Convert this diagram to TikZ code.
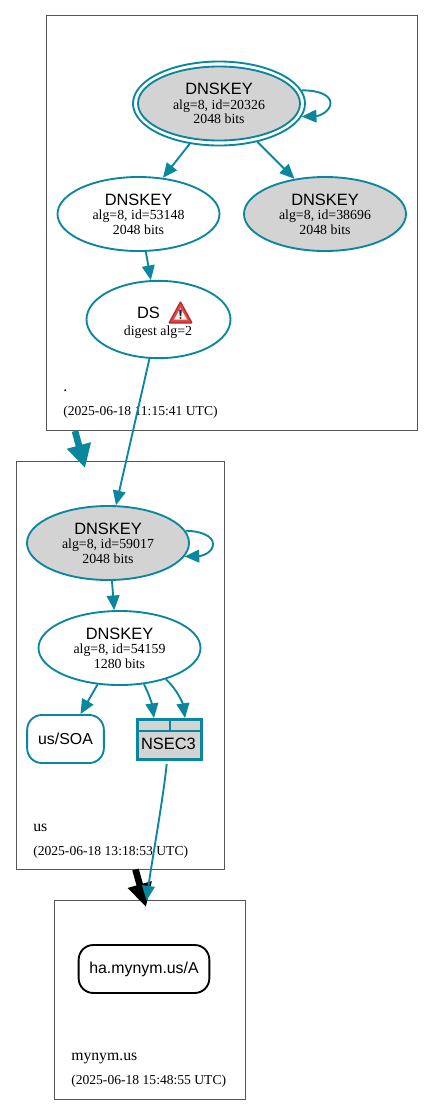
\documentclass[tikz,border=0pt]{standalone}
\usepackage{fontspec}
\setmainfont{Liberation Serif}
\newfontfamily\arialf{Liberation Sans}
\usetikzlibrary{shapes.geometric,arrows.meta,calc}
\definecolor{tealc}{HTML}{0A879E}
\definecolor{clusterc}{HTML}{555555}
\definecolor{fillc}{HTML}{D3D3D3}
\definecolor{warnouter}{HTML}{B52A2A}
\definecolor{warnmid}{HTML}{E04848}
\newcommand{\bigt}[1]{{\arialf\fontsize{12.3}{14}\selectfont #1}}
\newcommand{\midt}[1]{{\arialf\fontsize{11.9}{14}\selectfont #1}}
\newcommand{\smallt}[1]{{\fontsize{10.4}{11.5}\selectfont #1}}
\tikzset{
  x=0.75pt,y=-0.75pt,
  clusterbox/.style={draw=clusterc,line width=0.6pt,fill=white},
  keynode/.style={ellipse,draw=tealc,line width=1.4pt,minimum width=121.5pt,minimum height=55.5pt,inner sep=0pt,align=center,text=black},
  keyfill/.style={keynode,fill=fillc},
  edgeline/.style={draw=tealc,line width=1.4pt,-{Triangle[length=11pt,width=9.5pt,fill=tealc]}},
  rrbox/.style={draw=tealc,rounded corners=11pt,line width=1.4pt,minimum width=57.5pt,minimum height=36pt,inner sep=0pt},
  lbl/.style={anchor=base west,inner sep=0pt,font=\fontsize{11.8}{13}\selectfont},
  dlbl/.style={anchor=base west,inner sep=0pt,font=\fontsize{10.2}{11.5}\selectfont},
  delegate/.style={line width=5pt},
}
\begin{document}
\begin{tikzpicture}
\useasboundingbox (0,0) rectangle (433,1115);
% clusters
\node[clusterbox,minimum width=278.25pt,minimum height=311.25pt,inner sep=0pt] (root zone) at (232,223) {};
\node[clusterbox,minimum width=156pt,minimum height=306pt,inner sep=0pt] (us zone) at (120,665) {};
\node[clusterbox,minimum width=143.25pt,minimum height=149.25pt,inner sep=0pt] (mynym zone) at (149.75,999.5) {};
% cluster labels
\node[lbl] (l1) at (63,391) {.};
\node[dlbl] (d1) at (63,415) {(2025-06-18 11:15:41 UTC)};
\node[lbl] (l2) at (33,831.5) {us};
\node[dlbl] (d2) at (33,855) {(2025-06-18 13:18:53 UTC)};
\node[lbl] (l3) at (71,1060.5) {mynym.us};
\node[dlbl] (d3) at (71,1084) {(2025-06-18 15:48:55 UTC)};
% nodes
\node[ellipse,draw=tealc,line width=1.4pt,minimum width=129pt,minimum height=63pt,inner sep=0pt] (rootouter) at (219,103.5) {};
\node[keyfill] (root) at (219,103.5) {\bigt{DNSKEY}\\[-1pt]\smallt{alg=8, id=20326}\\[-1.2pt]\smallt{2048 bits}};
\node[keynode] (k1) at (138.5,214) {\bigt{DNSKEY}\\[-1pt]\smallt{alg=8, id=53148}\\[-1.2pt]\smallt{2048 bits}};
\node[keyfill] (k2) at (325,214) {\bigt{DNSKEY}\\[-1pt]\smallt{alg=8, id=38696}\\[-1.2pt]\smallt{2048 bits}};
\node[ellipse,draw=tealc,line width=1.4pt,minimum width=108pt,minimum height=58pt,inner sep=0pt] (ds) at (158.5,319.5) {};
\node[inner sep=0pt] (dstext) at (148.5,312.5) {\bigt{DS}};
\node[inner sep=0pt] (dsalg) at (158,332.5) {\smallt{digest alg=2}};
\node[keyfill] (k3) at (108,543) {\bigt{DNSKEY}\\[-1pt]\smallt{alg=8, id=59017}\\[-1.2pt]\smallt{2048 bits}};
\node[keynode] (k4) at (119.5,648) {\bigt{DNSKEY}\\[-1pt]\smallt{alg=8, id=54159}\\[-1.2pt]\smallt{1280 bits}};
\node[rrbox] (soa) at (65.5,739) {\raisebox{1pt}{\midt{us/SOA}}};
\node[rrbox,draw=black,minimum width=98pt] (ha) at (144,969) {\midt{ha.mynym.us/A}};
% NSEC3
\node[draw=tealc,fill=fillc,line width=2.2pt,minimum width=47.5pt,minimum height=30pt,inner sep=0pt] (nsec) at (169.5,739.5) {};
\node[inner sep=0pt] (nsectext) at (168.5,744) {\bigt{NSEC3}};
\coordinate (nl) at (nsec.west |- 0,731);
\coordinate (nr) at (nsec.east |- 0,731);
\draw[tealc,line width=1.5pt] (nl) -- (nr);
\draw[tealc,line width=2pt] (170,719) -- (170,731);
% warning icon
\fill[warnouter,rounded corners=1pt] (180.5,300.5) -- (193,323.5) -- (168,323.5) -- cycle;
\fill[warnmid] (180.5,303.5) -- (190.5,322) -- (170.5,322) -- cycle;
\fill[white!95!red] (180.5,308) -- (187,319.5) -- (174,319.5) -- cycle;
\fill[black!85] (179.2,309.5) -- (181.8,309.5) -- (181.3,316) -- (179.7,316) -- cycle;
\fill[black!85] (180.5,318) circle (1.2);
% delegation arrows (under the connectors)
\coordinate (a1) at (75,431);
\coordinate (a2) at (85,468);
\draw[draw=tealc,delegate,-{Triangle[length=17.5pt,width=17.5pt,fill=tealc]}] (a1) -- (a2);
\coordinate (b1) at (135.5,869.5);
\coordinate (b2) at (146,907);
\draw[draw=black,delegate,-{Triangle[length=17.5pt,width=17.5pt,fill=black]}] (b1) -- (b2);
% edges
\draw[edgeline] (rootouter.234.7) -- (k1.56);
\draw[edgeline] (rootouter.315) -- (k2.131.6);
\draw[edgeline] (k1.281) -- (ds.101);
\draw[edgeline] (ds.257.7) -- (k3.78);
\draw[edgeline] (k3.276) -- (k4.98);
\draw[edgeline] (k4.239) -- (soa.59);
\coordinate (na) at (154,718);
\coordinate (nb) at (185,718);
\draw[edgeline] (k4.-56) .. controls (149,694) and (152,704) .. (na);
\draw[edgeline] (k4.-34) .. controls (177,689) and (183,704) .. (nb);
\coordinate (hatop) at (146.5,900.5);
\coordinate (nsout) at (166.7,764);
\draw[edgeline] (nsout) .. controls (163,800) and (152,860) .. (hatop);
\coordinate (rl) at (330.5,103);
\draw[edgeline] (rootouter.9) .. controls (318,90) and (330.5,95) .. (rl) .. controls (330.5,111) and (320,116) .. (rootouter.-9);
\coordinate (kl) at (213,544);
\draw[edgeline] (k3.9.6) .. controls (201,531) and (213,536) .. (kl) .. controls (213,552) and (203,556) .. (k3.-10);
\end{tikzpicture}
\end{document}
